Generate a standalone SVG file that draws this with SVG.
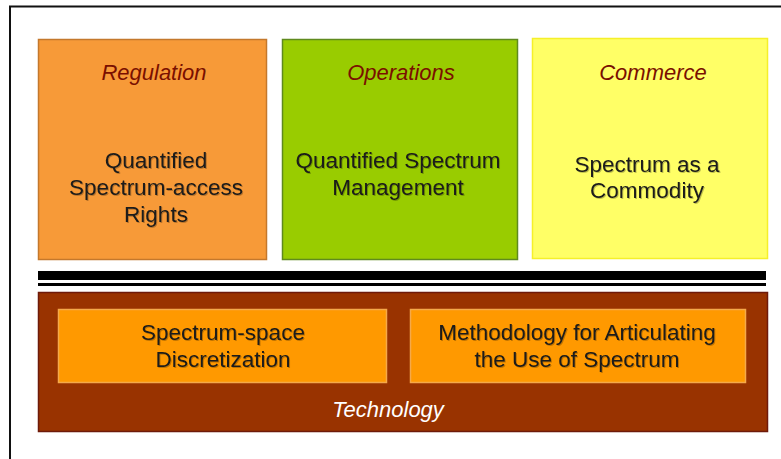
<svg xmlns="http://www.w3.org/2000/svg" width="781" height="459" viewBox="0 0 781 459">
<defs>
<style>
.t{font-family:"Liberation Sans",Arial,sans-serif;font-size:22.5px;text-anchor:middle}
.title{font-style:italic;fill:#7a0f00;font-size:22px}
.body{fill:#1a1a1a}
.tech{font-style:italic;fill:#ffffff;font-size:22px}
</style>
<filter id="sh" x="-5%" y="-20%" width="110%" height="140%">
<feDropShadow dx="1" dy="1" stdDeviation="0.4" flood-color="#000" flood-opacity="0.25"/>
</filter>
</defs>
<rect width="781" height="459" fill="#ffffff"/>
<path d="M10 459 V6.5 H781" fill="none" stroke="#111" stroke-width="2"/>
<g id="regulation">
<rect x="38.5" y="39.5" width="228" height="220" fill="#f79a38" stroke="#c4782c" stroke-width="1.5"/>
<text class="t title" x="154" y="80">Regulation</text>
<g class="t body" filter="url(#sh)">
<text x="156" y="168">Quantified</text>
<text x="156" y="195">Spectrum-access</text>
<text x="156" y="222">Rights</text>
</g>
</g>
<g id="operations">
<rect x="282.5" y="39.5" width="235" height="220" fill="#99cc00" stroke="#5f8a1e" stroke-width="1.5"/>
<text class="t title" x="401" y="80">Operations</text>
<g class="t body" filter="url(#sh)">
<text x="398" y="168">Quantified Spectrum</text>
<text x="398" y="195">Management</text>
</g>
</g>
<g id="commerce">
<rect x="532.5" y="38.5" width="235" height="220" fill="#ffff66" stroke="#f5f02a" stroke-width="1.5"/>
<text class="t title" x="653" y="80">Commerce</text>
<g class="t body" filter="url(#sh)">
<text x="647" y="172">Spectrum as a</text>
<text x="647" y="198">Commodity</text>
</g>
</g>
<g id="divider">
<rect x="38" y="271" width="728" height="9" fill="#000"/>
<rect x="38" y="283" width="728" height="3" fill="#000"/>
</g>
<g id="technology">
<rect x="38.5" y="292.5" width="729" height="139" fill="#993300" stroke="#6e1a0a" stroke-width="1.5"/>
<text class="t tech" x="388" y="417">Technology</text>
</g>
<g id="discretization">
<rect x="58.5" y="309.5" width="328" height="73" fill="#ff9900" stroke="#f5a94a" stroke-width="1.5"/>
<g class="t body" filter="url(#sh)">
<text x="223" y="340">Spectrum-space</text>
<text x="223" y="367">Discretization</text>
</g>
</g>
<g id="methodology">
<rect x="410.5" y="309.5" width="335" height="73" fill="#ff9900" stroke="#f5a94a" stroke-width="1.5"/>
<g class="t body" filter="url(#sh)">
<text x="577" y="340">Methodology for Articulating</text>
<text x="577" y="367">the Use of Spectrum</text>
</g>
</g>
<g id="connectors"/>
</svg>
